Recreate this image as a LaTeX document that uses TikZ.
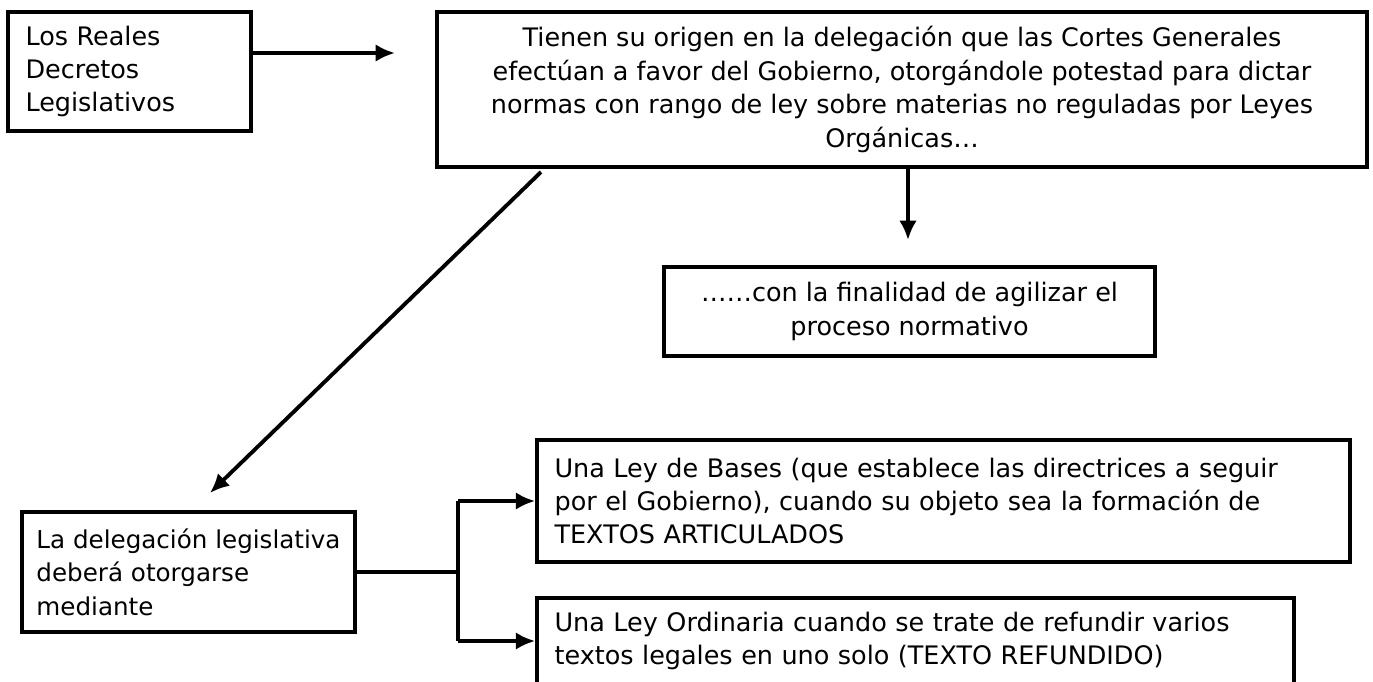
\documentclass[tikz,border=0pt]{standalone}
\usepackage{fontspec}
\setmainfont{DejaVu Sans}
\usetikzlibrary{arrows.meta, positioning}

\tikzset{
  box/.style={draw, line width=2.2pt, inner ysep=0pt, font=\fontsize{14.5}{19}\selectfont},
  lbox/.style={box, inner xsep=0.35cm, align=left},
  cbox/.style={box, inner xsep=0pt, align=center},
  link/.style={line width=2.2pt, ->},
}

\begin{document}
\begin{tikzpicture}[x=0.02cm, y=-0.02cm, >={Latex[length=11pt,width=10pt]}]
\useasboundingbox (0,0) rectangle (1373,681);
% boxes
\node[lbox, text width=4.16cm, minimum height=2.38cm] (reales) at (129.5,71.5)
  {Los Reales\\Decretos\\Legislativos};
\node[cbox, minimum width=18.6cm, minimum height=3.1cm] (origen) at (902,89.5)
  {Tienen su origen en la delegación que las Cortes Generales\\
   efectúan a favor del Gobierno, otorgándole potestad para dictar\\
   normas con rango de ley sobre materias no reguladas por Leyes\\
   Orgánicas…};
\node[cbox, minimum width=9.82cm, minimum height=1.78cm] (finalidad) at (909.5,311.5)
  {……con la finalidad de agilizar el\\proceso normativo};
\node[box, align=left, inner xsep=0pt, minimum width=6.66cm, minimum height=2.4cm,
  font=\fontsize{14}{19}\selectfont] (delegacion) at (188.5,572)
  {La delegación legislativa\\deberá otorgarse\\mediante};
\node[lbox, text width=15.56cm, minimum height=2.44cm] (bases) at (943.5,501)
  {Una Ley de Bases (que establece las directrices a seguir\\
   por el Gobierno), cuando su objeto sea la formación de\\
   TEXTOS ARTICULADOS};
\node[lbox, text width=14.44cm, minimum height=1.72cm] (ordinaria) at (915.5,641)
  {Una Ley Ordinaria cuando se trate de refundir varios\\
   textos legales en uno solo (TEXTO REFUNDIDO)};
% free ends
\coordinate (toOrigen) at (395,53);
\coordinate (toFin) at (908,240);
\coordinate (diagA) at (541,172);
\coordinate (diagB) at (210,493);
\coordinate (split) at (458,572);
% connectors
\draw[link] (reales.east |- toOrigen) -- (toOrigen);
\draw[link] (origen.south -| toFin) -- (toFin);
\draw[link] (diagA) -- (diagB);
\draw[line width=2.2pt] (delegacion.east) -- (split);
\draw[line width=2.2pt] (split |- bases.west) -- (split |- ordinaria.west);
\draw[link] (split |- bases.west) -- (bases.west);
\draw[link] (split |- ordinaria.west) -- (ordinaria.west);
\end{tikzpicture}
\end{document}
